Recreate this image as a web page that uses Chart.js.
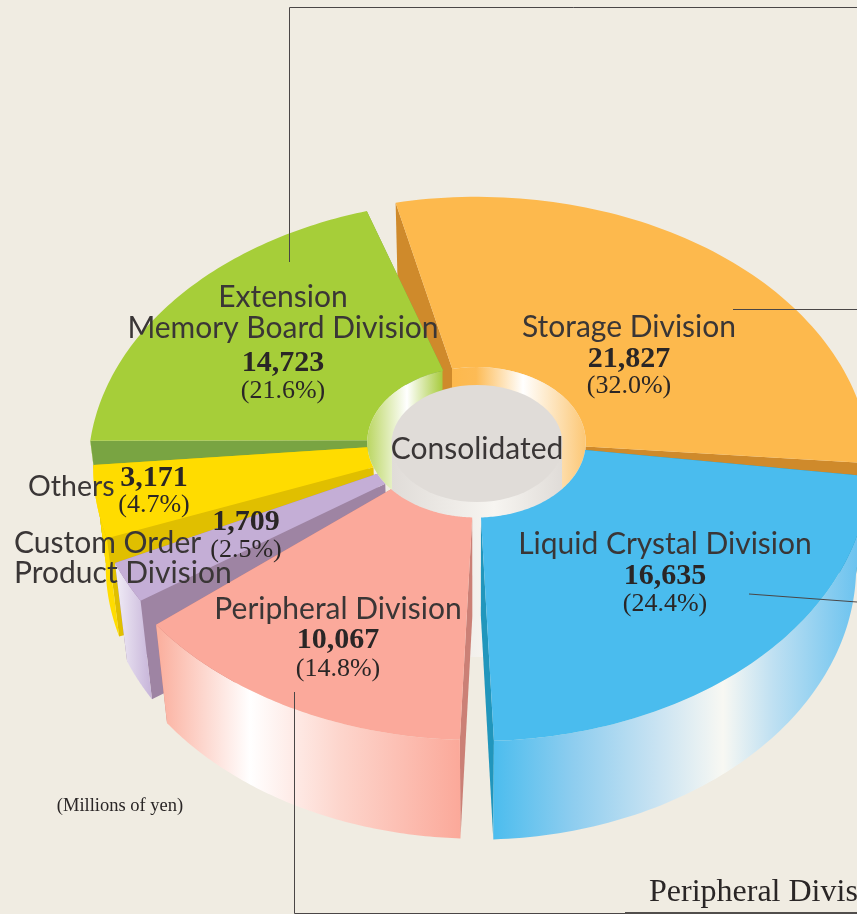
<!DOCTYPE html>
<html lang="en">
<head>
  <meta charset="UTF-8" />
  <title>Consolidated sales by division</title>
  <script src="https://cdn.jsdelivr.net/npm/chart.js"></script>
  <style>
    html, body { margin: 0; padding: 0; background: #f0ece2; overflow: hidden; }
    canvas { display: block; }
  </style>
</head>
<body>
  <canvas id="chartDivisoes" width="857" height="914"></canvas>

  <script>
    const divisions = ["Storage Division", "Liquid Crystal Division", "Peripheral Division", "Custom Order Product Division", "Others", "Extension Memory Board Division"];
    const sales = [21827, 16635, 10067, 1709, 3171, 14723];
    const salesText = ["21,827", "16,635", "10,067", "1,709", "3,171", "14,723"];
    const shareText = ["(32.0%)", "(24.4%)", "(14.8%)", "(2.5%)", "(4.7%)", "(21.6%)"];

    // styling per slice
    const faceColors = ["#fdb94d", "#4abcee", "#fba99b", "#c4aed6", "#ffdc00", "#a6ce39"];
    const cutColors = ["#cf8a2b", "#2196bc", "#cb8076", "#9e84a3", "#e0bf00", "#79a442"];
    const wallStops = [
      [[0, "#fdb94d"], [1, "#fdb94d"]],
      [[495, "#4dbdee"], [573, "#8ecdef"], [657, "#c9e3f2"], [723, "#f8f8f3"], [773, "#bfe0f2"], [857, "#6cc3ef"]],
      [[160, "#fbb1a0"], [250, "#ffffff"], [340, "#fdd5cc"], [460, "#fba99a"]],
      [[117, "#efeaf5"], [153, "#c5b2d8"]],
      [[0, "#ffdc00"], [1, "#ffdc00"]],
      [[0, "#a6ce39"], [1, "#a6ce39"]]
    ];
    const sliceTurn = [3.2, -1.6, -3.7, -1.5, 2.9, 4.7];
    const sliceSpan = [0.9375, 0.911, 0.9, 0.94, 0.935, 0.924];
    const sliceRadius = [1.005, 1, 0.997, 0.985, 0.977, 0.99];
    const backSlices = [0, 5, 4];
    const frontSlices = [3, 2, 1];

    // camera: disc of radius 1 seen from the front and above
    const cam = { x: 476.5, y: 440, a: 390, b: 268.4, c: 101, k: 0.1087, m: 0.033 };

    function project(phi, rho, z) {
      const X = rho * Math.cos(phi), Y = rho * Math.sin(phi);
      const w = 1 - cam.k * Y + cam.m * z;
      return [cam.x + cam.a * X / w, cam.y + (cam.b * Y + cam.c * z) / w];
    }

    function tracePoly(ctx, pts) {
      ctx.beginPath();
      pts.forEach((p, i) => i ? ctx.lineTo(p[0], p[1]) : ctx.moveTo(p[0], p[1]));
      ctx.closePath();
    }

    function arcPoints(a0, a1, rho, z) {
      const pts = [];
      const n = 80;
      for (let i = 0; i <= n; i++) pts.push(project(a0 + (a1 - a0) * i / n, rho, z));
      return pts;
    }

    function drawSlice(ctx, arc, i) {
      const p = arc.getProps(["startAngle", "endAngle", "innerRadius", "outerRadius"], true);
      const mid = (p.startAngle + p.endAngle) / 2 + sliceTurn[i] * Math.PI / 180;
      const half = (p.endAngle - p.startAngle) / 2 * sliceSpan[i];
      const a0 = mid - half, a1 = mid + half;
      const r0 = p.innerRadius / p.outerRadius;
      const r1 = sliceRadius[i];

      // the two cut walls
      ctx.fillStyle = cutColors[i];
      [a0, a1].forEach(a => {
        tracePoly(ctx, [project(a, r0, 0), project(a, r1, 0), project(a, r1, 1), project(a, r0, 1)]);
        ctx.fill();
      });

      // outer wall, only the part that faces the viewer
      const w0 = Math.max(a0, 0), w1 = Math.min(a1, Math.PI);
      if (w1 > w0) {
        const stops = wallStops[i];
        const lo = stops[0][0], hi = stops[stops.length - 1][0];
        const grad = ctx.createLinearGradient(lo, 0, hi, 0);
        stops.forEach(s => grad.addColorStop((s[0] - lo) / (hi - lo), s[1]));
        ctx.fillStyle = grad;
        tracePoly(ctx, arcPoints(w0, w1, r1, 0).concat(arcPoints(w1, w0, r1, 1)));
        ctx.fill();
      }

      // top face
      ctx.fillStyle = faceColors[i];
      tracePoly(ctx, arcPoints(a0, a1, r1, 0).concat(arcPoints(a1, a0, r0, 0)));
      ctx.fill();
    }

    function drawHole(ctx, r0) {
      ctx.save();
      tracePoly(ctx, arcPoints(0, Math.PI * 2, r0, 0));
      ctx.clip();

      const ring = [[368, "#bcd765"], [407, "#ffffff"], [442, "#a9cc40"], [443, "#cf8a2b"], [452, "#cf8a2b"], [452.5, "#fdb94d"], [476, "#fdbb55"], [523, "#ffffff"], [585, "#fcc877"]];
      const grad = ctx.createLinearGradient(368, 0, 585, 0);
      ring.forEach(s => grad.addColorStop((s[0] - 368) / 217, s[1]));
      ctx.fillStyle = grad;
      ctx.fillRect(360, 360, 235, 170);
      ctx.restore();

      // centre post, seen through the gap between the front slices
      const wall = ctx.createLinearGradient(392, 0, 562, 0);
      wall.addColorStop(0, "#e0dcd8");
      wall.addColorStop(0.6, "#f7f5f1");
      wall.addColorStop(1, "#e0dcd8");
      ctx.fillStyle = wall;
      ctx.fillRect(392, 444, 170, 213);

      ctx.fillStyle = "#e0dcd8";
      ctx.beginPath();
      ctx.ellipse(477, 443.5, 85.5, 58.5, 0, 0, Math.PI * 2);
      ctx.fill();
    }

    const solidPie = {
      id: "solidPie",
      beforeDatasetDraw(chart, args) {
        const ctx = chart.ctx;
        const arcs = args.meta.data;
        const r0 = arcs[0].innerRadius / arcs[0].outerRadius;
        backSlices.forEach(i => drawSlice(ctx, arcs[i], i));
        drawHole(ctx, r0);
        frontSlices.forEach(i => drawSlice(ctx, arcs[i], i));
        return false;
      }
    };

    function drawLine(ctx, pts) {
      ctx.beginPath();
      pts.forEach((p, i) => i ? ctx.lineTo(p[0], p[1]) : ctx.moveTo(p[0], p[1]));
      ctx.stroke();
    }

    const sansFont = '"Lato", sans-serif';
    const serifFont = '"Liberation Serif", serif';

    function put(ctx, text, x, y, font, align, color) {
      ctx.font = font;
      ctx.textAlign = align || "center";
      ctx.fillStyle = color || "#2a2626";
      ctx.fillText(text, x, y);
    }

    const labelsPlugin = {
      id: "labelsPlugin",
      afterDraw(chart) {
        const ctx = chart.ctx;
        ctx.save();
        ctx.strokeStyle = "#4a4646";
        ctx.lineWidth = 1;
        drawLine(ctx, [[289.5, 262], [289.5, 7.5], [857, 7.5]]);
        drawLine(ctx, [[733, 309.5], [857, 309.5]]);
        drawLine(ctx, [[749, 594], [857, 602]]);
        drawLine(ctx, [[294.5, 692], [294.5, 913.5], [625, 913.5]]);
        ctx.strokeStyle = "#1c1a1a";
        ctx.lineWidth = 1.5;
        drawLine(ctx, [[625, 913], [857, 913]]);

        ctx.textBaseline = "alphabetic";
        const ink = "#3a3636";
        const name = "30px " + sansFont;
        const num = "bold 30px " + serifFont;
        const pct = "26px " + serifFont;

        put(ctx, "Storage Division", 629, 337, name, "center", ink);
        put(ctx, salesText[0], 629, 367, num);
        put(ctx, shareText[0], 629, 393, pct);

        put(ctx, "Liquid Crystal Division", 665, 554, name, "center", ink);
        put(ctx, salesText[1], 665, 584, num);
        put(ctx, shareText[1], 665, 611, pct);

        put(ctx, "Peripheral Division", 338, 619, name, "center", ink);
        put(ctx, salesText[2], 338, 648, num);
        put(ctx, shareText[2], 338, 676, pct);

        put(ctx, "Custom Order", 14, 553, name, "left", ink);
        put(ctx, "Product Division", 14, 583, name, "left", ink);
        put(ctx, salesText[3], 246, 530, num);
        put(ctx, shareText[3], 246, 557, pct);

        put(ctx, "Others", 28, 496, "28.5px " + sansFont, "left", ink);
        put(ctx, salesText[4], 154, 486, num);
        put(ctx, shareText[4], 154, 512, pct);

        put(ctx, "Extension", 283, 307, name, "center", ink);
        put(ctx, "Memory Board Division", 283, 338, name, "center", ink);
        put(ctx, salesText[5], 283, 371, num);
        put(ctx, shareText[5], 283, 398, pct);

        put(ctx, "Consolidated", 477, 459, name, "center", ink);
        put(ctx, "(Millions of yen)", 120, 811, "18.5px " + serifFont);
        put(ctx, "Peripheral Division", 649, 901, "32px " + serifFont, "left");
        ctx.restore();
      }
    };

    new Chart(document.getElementById("chartDivisoes").getContext("2d"), {
      type: "doughnut",
      data: {
        labels: divisions,
        datasets: [{ data: sales, backgroundColor: faceColors, borderWidth: 0 }]
      },
      options: {
        responsive: false,
        animation: false,
        rotation: -20,
        cutout: "28%",
        plugins: { legend: { display: false }, tooltip: { enabled: false } }
      },
      plugins: [solidPie, labelsPlugin]
    });
  </script>
</body>
</html>
